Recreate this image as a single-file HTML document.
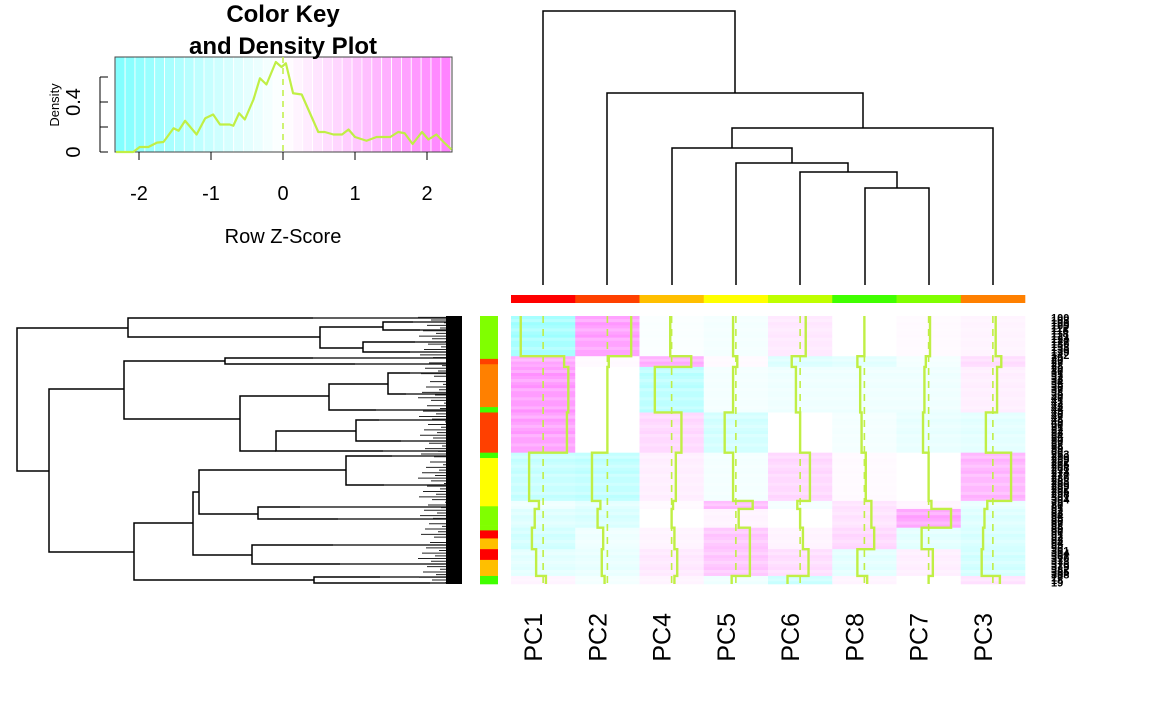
<!DOCTYPE html>
<html><head><meta charset="utf-8"><style>
html,body{margin:0;padding:0;background:#fff;}
svg{display:block;font-family:"Liberation Sans",sans-serif;}
</style></head><body>
<svg id="chart" width="1152" height="711" viewBox="0 0 1152 711">
<g id="key"></g>
<g id="coldend"></g>
<g id="colbar"></g>
<g id="rowdend"></g>
<g id="rowbar"></g>
<g id="heat"></g>
<g id="traces"></g>
<g id="rlabels"></g>
<g id="clabels"></g>
</svg>
<script>
// ---------- data ----------
const columns = ["PC1","PC2","PC4","PC5","PC6","PC8","PC7","PC3"];
const columnColors = ["#ff0000","#ff4000","#ffbf00","#ffff00","#bfff00","#40ff00","#80ff00","#ff8000"];
// row groups: boundaries in row units (0..100)
const groupBreaks = [0,15,19,36,51,69,72,79,87,97,100];
const valPC1 = [-1.6,1.5,1.8,1.7,-1.0,-0.3,-0.6,-0.8,-0.5,0.2];
const valPC2 = [1.7,0.1,0.0,0.0,-1.1,-0.5,-0.7,-0.3,-0.4,-0.2];
const valPC4 = [-0.1,1.4,-1.2,0.7,0.3,0.1,0.0,0.2,0.4,0.2];
const valPC5 = [-0.2,0.1,-0.2,-0.8,-0.2,1.2,0.2,1.0,1.0,-0.3];
const valPC6 = [0.4,-0.6,-0.3,0.0,0.7,-0.2,0.0,0.2,0.6,-0.9];
const valPC8 = [0.0,-0.5,-0.3,-0.2,0.1,0.5,0.5,0.7,-0.5,0.2];
const valPC7 = [0.1,-0.2,-0.3,-0.4,0.0,0.2,1.6,-0.5,0.3,0.0];
const valPC3 = [0.2,0.6,0.3,-0.5,1.3,-0.4,-0.6,-0.7,-0.8,0.5];
const densZ = [-2.32,-2.08,-1.99,-1.87,-1.75,-1.66,-1.52,-1.45,-1.36,-1.20,-1.08,-0.97,-0.875,-0.74,-0.69,-0.61,-0.53,-0.41,-0.32,-0.23,-0.10,-0.02,0.04,0.14,0.26,0.375,0.49,0.58,0.70,0.82,0.91,1.0,1.16,1.30,1.49,1.60,1.69,1.80,1.93,2.02,2.13,2.23,2.34];
const densY = [0,0,0.04,0.04,0.075,0.08,0.19,0.17,0.25,0.14,0.27,0.30,0.22,0.22,0.21,0.31,0.26,0.42,0.59,0.54,0.72,0.68,0.71,0.47,0.46,0.31,0.16,0.16,0.14,0.14,0.18,0.12,0.09,0.12,0.12,0.16,0.15,0.064,0.16,0.10,0.14,0.08,0.02];
const keyXTicks = [-2,-1,0,1,2];
const keyYTicks = [0,0.2,0.4,0.6];
const keyYLabels = ["0","","0.4",""];
const rowSideStarts = [0,16,18,34,36,51,53,71,78,80,83,87,91,97];
const rowSideCols = ["#80ff00","#ff4000","#ff8000","#40ff00","#ff4000","#40ff00","#ffff00","#80ff00","#80ff00","#ff0000","#ffbf00","#ff0000","#ffbf00","#40ff00"];
const values = [valPC1,valPC2,valPC4,valPC5,valPC6,valPC8,valPC7,valPC3];

const NS="http://www.w3.org/2000/svg";
function mk(tag,attrs,parent){const e=document.createElementNS(NS,tag);for(const k in attrs)e.setAttribute(k,attrs[k]);parent.appendChild(e);return e;}
function zcol(z){let t=Math.min(1,Math.abs(z)/2.33);let c=Math.round(255-t*128);return z<0?`rgb(${c},255,255)`:`rgb(255,${c},255)`;}

// ---------- color key ----------
const key=document.getElementById('key');
const kx0=115,kx1=452,ky0=57,ky1=152;
const kX=z=>283+z*72, kY=d=>152-d*125;
const nb=34;
for(let i=0;i<nb;i++){const z0=-2.33+i*4.66/nb;
 const r=mk('rect',{x:kX(z0),y:ky0,width:4.66/nb*72,height:ky1-ky0,fill:zcol(z0+2.33/nb),stroke:'#fff','stroke-width':0.8},key);
 }
let r0=mk('rect',{x:kx0,y:ky0,width:kx1-kx0,height:ky1-ky0,fill:'none',stroke:'#444','stroke-width':1},key);

let l0=mk('line',{x1:kX(0),x2:kX(0),y1:ky0,y2:ky1,stroke:'#c0ef45','stroke-width':1.5,'stroke-dasharray':'6,5'},key);

let dp=mk('polyline',{points:densZ.map((z,i)=>kX(z)+','+kY(densY[i])).join(' '),fill:'none',stroke:'#c0ef45','stroke-width':2.2,'stroke-linejoin':'round'},key);

keyXTicks.forEach(v=>{mk('line',{x1:kX(v),x2:kX(v),y1:152,y2:160,stroke:'#000'},key);
 const t=mk('text',{x:kX(v),y:200,'font-size':20,'text-anchor':'middle'},key);t.textContent=v;
 });
mk('line',{x1:100,x2:100,y1:kY(0),y2:kY(0.6),stroke:'#000'},key);
keyYTicks.forEach((v,i)=>{mk('line',{x1:100,x2:108,y1:kY(v),y2:kY(v),stroke:'#000'},key);
 if(keyYLabels[i]){const t=mk('text',{x:0,y:0,'font-size':20,'text-anchor':'middle',transform:`translate(80,${kY(v)}) rotate(-90)`},key);t.textContent=keyYLabels[i];
 }});
let t1=mk('text',{x:0,y:0,'font-size':13,'text-anchor':'middle',transform:'translate(59,105) rotate(-90)'},key);t1.textContent='Density';

let t2=mk('text',{x:283,y:243,'font-size':20,'text-anchor':'middle'},key);t2.textContent='Row Z-Score';

let t3=mk('text',{x:283,y:22,'font-size':24,'font-weight':'bold','text-anchor':'middle'},key);t3.textContent='Color Key';

let t4=mk('text',{x:283,y:54,'font-size':24,'font-weight':'bold','text-anchor':'middle'},key);t4.textContent='and Density Plot';


// ---------- heatmap ----------
const hx0=511,hx1=1025,hy0=316,hy1=584;
const cw=(hx1-hx0)/columns.length;
const rowY=r=>hy0+r*(hy1-hy0)/100;
const colC=i=>hx0+cw*(i+0.5);
const heat=document.getElementById('heat'),tr=document.getElementById('traces');
values.forEach((vals,ci)=>{
 for(let g=0;g<vals.length;g++){
  const y0=rowY(groupBreaks[g]),y1=rowY(groupBreaks[g+1]);
  const n=Math.max(1,Math.round((y1-y0)/3));
  for(let k=0;k<n;k++){
   const v=vals[g]*(k%3===1?0.8:(k%4===2?1.12:1));
   const c=mk('rect',{x:hx0+ci*cw,y:y0+(y1-y0)*k/n,width:cw+0.3,height:(y1-y0)/n+0.3,fill:zcol(v)},heat);
   
  }
 }
 const cx=colC(ci);
 const dl=mk('line',{x1:cx,x2:cx,y1:hy0,y2:hy1,stroke:'#c0ef45','stroke-width':1.6,'stroke-dasharray':'7,6'},tr);
 
 let pts=[];
 vals.forEach((v,g)=>{const x=cx+v*14;pts.push(x+','+rowY(groupBreaks[g]));pts.push(x+','+rowY(groupBreaks[g+1]));});
 const pl=mk('polyline',{points:pts.join(' '),fill:'none',stroke:'#c0ef45','stroke-width':2.4},tr);
 
 const cb=mk('rect',{x:hx0+ci*cw,y:295,width:cw+0.3,height:8,fill:columnColors[ci]},document.getElementById('colbar'));
 
 const lt=mk('text',{x:0,y:0,'font-size':25,'text-anchor':'end',transform:`translate(${cx-1},613) rotate(-90)`},document.getElementById('clabels'));
 lt.textContent=columns[ci];
});

// ---------- column dendrogram ----------
const cd=document.getElementById('coldend');
const cNodes=[[865,929,188,285,285],[800,897,172,285,188],[736,848,163,285,172],[672,792,148,285,163],[732,993,128,148,285],[607,863,93,285,128],[543,735,11,285,93]];
cNodes.forEach(n=>{const [a,b,h,ha,hb]=n;
 const p=mk('path',{d:`M${a},${ha} V${h} H${b} V${hb}`,fill:'none',stroke:'#000','stroke-width':1.5},cd);
 });

// ---------- row dendrogram ----------
const rd=document.getElementById('rowdend');
const rNodes=[[17,328,471,128,49],[128,318,337,313,320],[320,327,348,383,363],[383,322,330,413,420],[363,342,352,415,410],
[49,389,552,124,134],[124,361,419,225,240],[225,358,364,313,355],[240,396,451,329,276],[329,384,410,388,376],[388,373,394,410,406],
[276,431,451,356,383],[356,420,441,379,401],[134,523,580,193,314],[193,492,555,199,252],[199,470,514,346,258],[346,456,485,392,384],
[258,507,519,300,338],[252,545,564,333,340],[314,577,583,380,430]];
rNodes.forEach(n=>{const [x,ya,yb,ca,cb]=n;
 const p=mk('path',{d:`M${ca},${ya} H${x} V${yb} H${cb}`,fill:'none',stroke:'#000','stroke-width':1.5},rd);
 
 [[ca,ya],[cb,yb]].forEach(([cx,cy])=>{ if(!rNodes.some(m=>m[0]===cx&&cy>=m[1]-0.1&&cy<=m[2]+0.1)){
   const q=mk('line',{x1:cx,x2:462,y1:cy,y2:cy,stroke:'#000','stroke-width':1.3},rd);
   }});
});
for(let i=0;i<100;i++){const y=rowY(i+0.5);const x=418+((i*13)%30);
 const q=mk('line',{x1:x,x2:462,y1:y,y2:y,stroke:'#222','stroke-width':1},rd);
 }
let blk=mk('rect',{x:446,y:hy0,width:16,height:hy1-hy0,fill:'#000'},rd);


// ---------- row side colors ----------
const rb=document.getElementById('rowbar');
rowSideStarts.forEach((s,i)=>{const e=i+1<rowSideStarts.length?rowSideStarts[i+1]:100;
 const c=mk('rect',{x:480,y:rowY(s),width:18,height:rowY(e)-rowY(s)+0.3,fill:rowSideCols[i]},rb);
 });

// ---------- row labels ----------
const rl=document.getElementById('rlabels');
for(let i=0;i<100;i++){const y=rowY(i+0.5)+4;const g=groupBreaks.findIndex(b=>b>i)-1;
 const lab=(g===0||g===4||g===8)?String(100+i*3):String(10+i%90);
 const t=mk('text',{x:1051,y:y,'font-size':11,'font-weight':600,fill:'#000'},rl);t.textContent=lab;
 }
</script>
</body></html>
